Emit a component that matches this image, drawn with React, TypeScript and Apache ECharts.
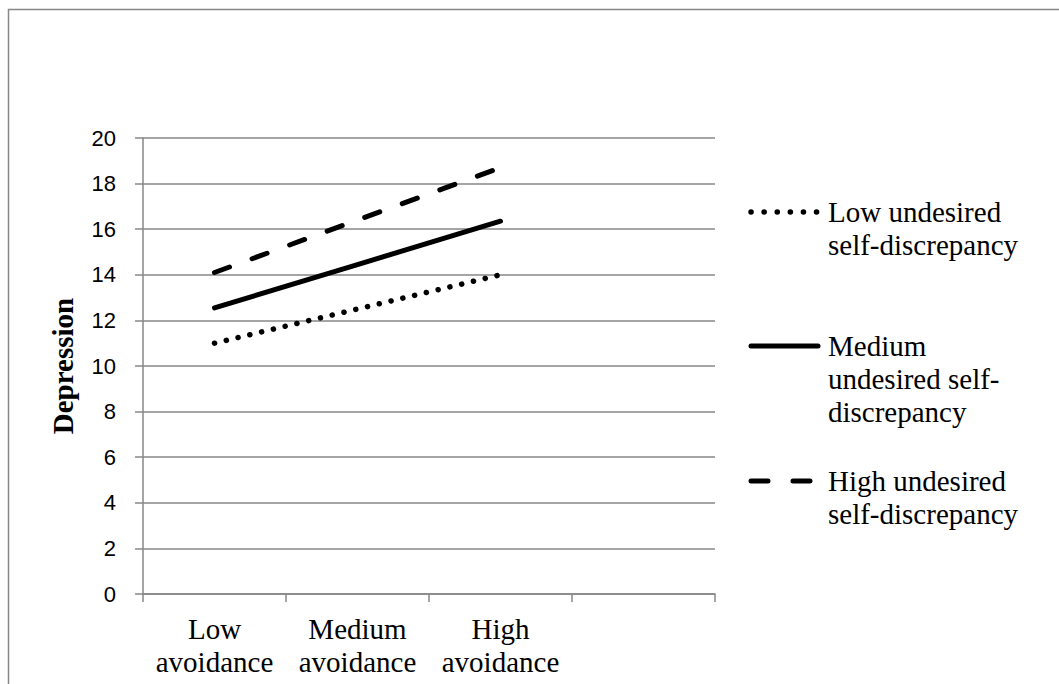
import React, { useEffect, useRef } from "react";
import * as echarts from "echarts";

const categories = ["Low\navoidance", "Medium\navoidance", "High\navoidance", ""];
const seriesNames = [
  "Low undesired self-discrepancy",
  "Medium undesired self-discrepancy",
  "High undesired self-discrepancy",
];
const legendLabels = [
  "Low undesired\nself-discrepancy",
  "Medium\nundesired self-\ndiscrepancy",
  "High undesired\nself-discrepancy",
];
const lowValues = [11.0, 12.5, 14.0];
const mediumValues = [12.55, 14.45, 16.35];
const highValues = [14.1, 16.4, 18.7];
const yTicks = [0, 2, 4, 6, 8, 10, 12, 14, 16, 18, 20];

const SERIF = "'Liberation Serif', 'Times New Roman', serif";
const SANS = "'Liberation Sans', Lato, sans-serif";
const GRAY = "#878787";

const dotDash = [0.1, 12];
const longDash = [16, 24];

export default function App() {
  const ref = useRef<HTMLDivElement>(null);
  useEffect(() => {
    if (!ref.current) return;
    const chart = echarts.init(ref.current, undefined, { renderer: "svg" });
    const lineStyles = [
      { color: "#000", width: 5.5, type: dotDash, cap: "round" },
      { color: "#000", width: 5, type: "solid", cap: "round" },
      { color: "#000", width: 5, type: longDash, cap: "round" },
    ];
    const data = [lowValues, mediumValues, highValues];
    const legendY = [212, 346, 481];
    const legendTextTop = [195, 329.5, 464];
    const legendGraphics: any[] = [];
    legendLabels.forEach((lab, i) => {
      legendGraphics.push({
        type: "line",
        shape: { x1: 751, y1: legendY[i], x2: 818, y2: legendY[i] },
        style: {
          stroke: "#000",
          lineWidth: i === 0 ? 5.5 : 5,
          lineDash: i === 0 ? [0.1, 13] : i === 2 ? [17, 25] : null,
          lineCap: "round",
        },
      });
      legendGraphics.push({
        type: "text",
        x: 828,
        y: legendTextTop[i],
        style: {
          text: lab,
          fontSize: 29,
          fontFamily: SERIF,
          lineHeight: 33,
          fill: "#000",
          textAlign: "left",
          verticalAlign: "top",
        },
      });
    });
    chart.setOption({
      animation: false,
      backgroundColor: "#fff",
      grid: { left: 143, right: 344, top: 138, bottom: 90, containLabel: false },
      xAxis: {
        type: "category",
        data: categories,
        boundaryGap: true,
        axisLine: { show: true, lineStyle: { color: GRAY, width: 1.5 } },
        axisTick: { show: true, length: 8, lineStyle: { color: GRAY, width: 1.5 } },
        axisLabel: {
          color: "#000",
          fontFamily: SERIF,
          fontSize: 29,
          lineHeight: 33,
          margin: 18,
          interval: 0,
        },
        splitLine: { show: false },
      },
      yAxis: {
        type: "value",
        min: 0,
        max: 20,
        interval: 2,
        name: "Depression",
        nameLocation: "middle",
        nameRotate: 90,
        nameGap: 66,
        nameTextStyle: {
          color: "#000",
          fontFamily: SERIF,
          fontSize: 29,
          fontWeight: "bold",
        },
        axisLine: { show: true, lineStyle: { color: GRAY, width: 1.5 } },
        axisTick: { show: true, length: 8, lineStyle: { color: GRAY, width: 1.5 } },
        axisLabel: {
          color: "#000",
          fontFamily: SANS,
          fontSize: 22,
          margin: 27,
          formatter: (v: number) => (yTicks.includes(v) ? String(v) : ""),
        },
        splitLine: { show: true, lineStyle: { color: GRAY, width: 1.5 } },
      },
      series: data.map((vals, i) => ({
        name: seriesNames[i],
        type: "line",
        data: vals,
        symbol: "none",
        lineStyle: lineStyles[i],
        silent: true,
      })),
      graphic: [
        {
          type: "rect",
          shape: { x: 8.5, y: 9.5, width: 1200, height: 1000 },
          style: { fill: "none", stroke: GRAY, lineWidth: 1.5 },
          silent: true,
        },
        ...legendGraphics,
      ],
    });
    return () => chart.dispose();
  }, []);
  return (
    <div
      ref={ref}
      style={{ position: "absolute", left: 0, top: 0, width: 1059, height: 684, background: "#fff" }}
    />
  );
}
